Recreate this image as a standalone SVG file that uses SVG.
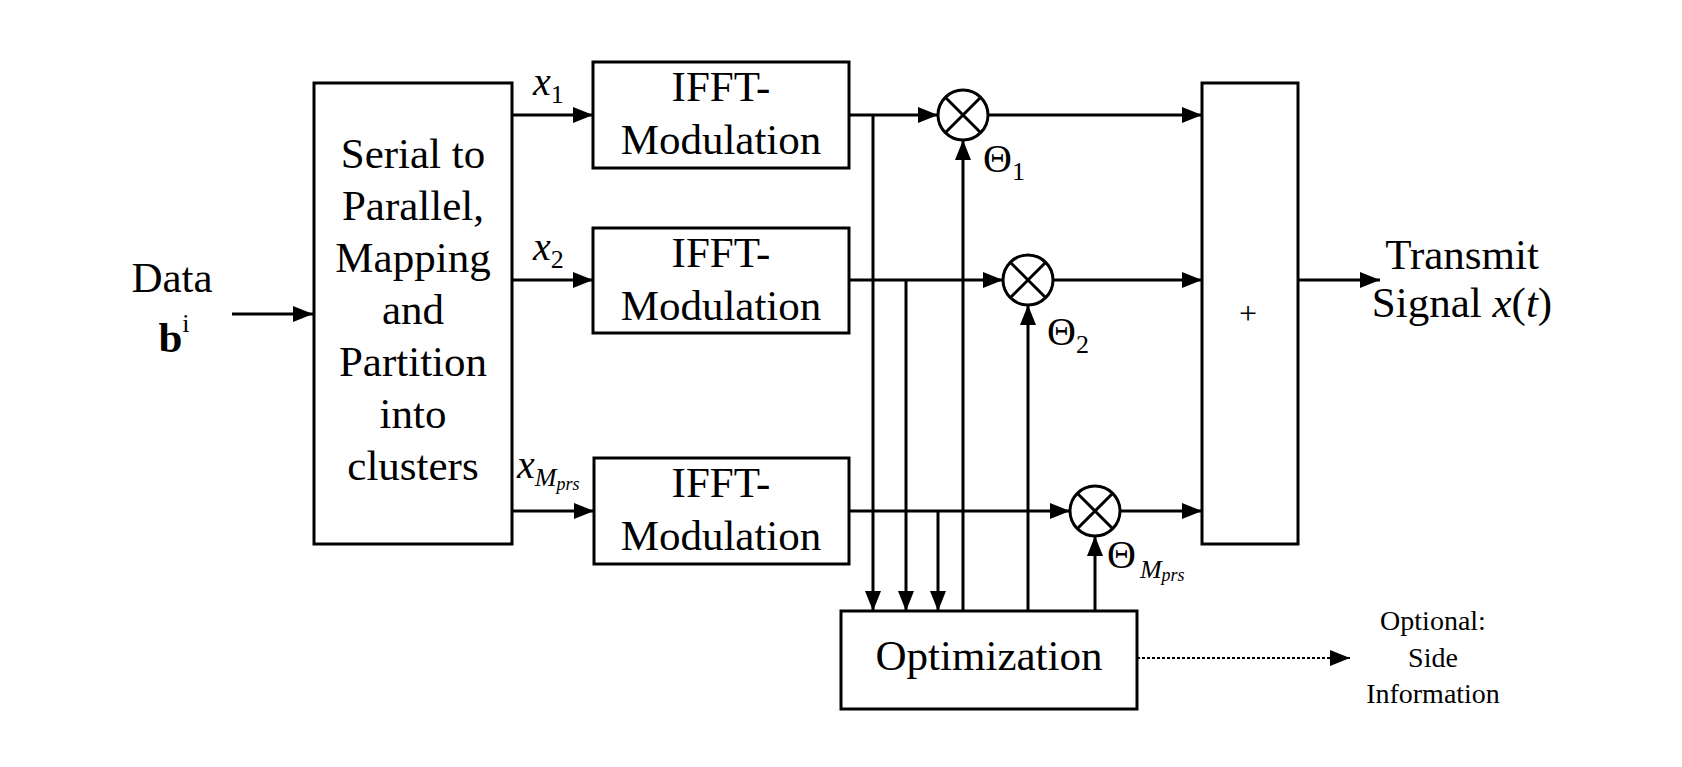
<svg xmlns="http://www.w3.org/2000/svg" width="1682" height="767" viewBox="0 0 1682 767">
<style>
.box{fill:#fff;stroke:#000;stroke-width:3}
.ln{fill:none;stroke:#000;stroke-width:3}
.dot{fill:none;stroke:#000;stroke-width:2;stroke-dasharray:3 2}
text{font-family:"Liberation Serif","Times New Roman",serif;fill:#000}
.t{font-size:43px;text-anchor:middle}
.it{font-style:italic}
.th{font-size:40px}
</style>
<defs>
<marker id="ah" markerUnits="userSpaceOnUse" markerWidth="22" markerHeight="18" refX="20" refY="8" orient="auto">
<path d="M0,0 L20,8 L0,16 z" fill="#000"/>
</marker>
</defs>
<rect width="1682" height="767" fill="#fff"/>

<g id="connectors">
<line class="ln" x1="232" y1="314" x2="313" y2="314" marker-end="url(#ah)"/>
<line class="ln" x1="512" y1="115" x2="593" y2="115" marker-end="url(#ah)"/>
<line class="ln" x1="512" y1="280" x2="593" y2="280" marker-end="url(#ah)"/>
<line class="ln" x1="512" y1="511" x2="594" y2="511" marker-end="url(#ah)"/>
<line class="ln" x1="849" y1="115" x2="938" y2="115" marker-end="url(#ah)"/>
<line class="ln" x1="849" y1="280" x2="1003" y2="280" marker-end="url(#ah)"/>
<line class="ln" x1="849" y1="511" x2="1070" y2="511" marker-end="url(#ah)"/>
<line class="ln" x1="988" y1="115" x2="1202" y2="115" marker-end="url(#ah)"/>
<line class="ln" x1="1053" y1="280" x2="1202" y2="280" marker-end="url(#ah)"/>
<line class="ln" x1="1120" y1="511" x2="1202" y2="511" marker-end="url(#ah)"/>
<line class="ln" x1="1298" y1="280" x2="1380" y2="280" marker-end="url(#ah)"/>
<line class="ln" x1="873" y1="115" x2="873" y2="611" marker-end="url(#ah)"/>
<line class="ln" x1="906" y1="280" x2="906" y2="611" marker-end="url(#ah)"/>
<line class="ln" x1="938" y1="511" x2="938" y2="611" marker-end="url(#ah)"/>
<line class="ln" x1="963" y1="611" x2="963" y2="140" marker-end="url(#ah)"/>
<line class="ln" x1="1028" y1="611" x2="1028" y2="305" marker-end="url(#ah)"/>
<line class="ln" x1="1095" y1="611" x2="1095" y2="536" marker-end="url(#ah)"/>
<line class="dot" x1="1137" y1="658" x2="1350" y2="658" marker-end="url(#ah)"/>
</g>

<g id="data-label">
<text x="172" y="292" class="t">Data</text>
<text x="174" y="352" class="t" font-weight="bold">b<tspan font-size="26" font-weight="normal" dy="-20">i</tspan></text>
</g>

<g id="sp-box">
<rect class="box" x="314" y="83" width="198" height="461"/>
<text class="t" x="413" y="168">Serial to</text>
<text class="t" x="413" y="220">Parallel,</text>
<text class="t" x="413" y="272">Mapping</text>
<text class="t" x="413" y="324">and</text>
<text class="t" x="413" y="376">Partition</text>
<text class="t" x="413" y="428">into</text>
<text class="t" x="413" y="480">clusters</text>
</g>

<g id="labels-x">
<text x="533" y="95" font-size="40" class="it">x<tspan font-size="26" font-style="normal" dy="8">1</tspan></text>
<text x="533" y="260" font-size="40" class="it">x<tspan font-size="26" font-style="normal" dy="8">2</tspan></text>
<text x="517" y="478" font-size="40" class="it">x<tspan font-size="26" dy="8">M</tspan><tspan font-size="18" dy="4">prs</tspan></text>
</g>

<g id="ifft1">
<rect class="box" x="593" y="62" width="256" height="106"/>
<text class="t" x="721" y="101">IFFT-</text>
<text class="t" x="721" y="154">Modulation</text>
</g>
<g id="ifft2">
<rect class="box" x="593" y="228" width="256" height="105"/>
<text class="t" x="721" y="267">IFFT-</text>
<text class="t" x="721" y="320">Modulation</text>
</g>
<g id="ifft3">
<rect class="box" x="594" y="458" width="255" height="106"/>
<text class="t" x="721" y="497">IFFT-</text>
<text class="t" x="721" y="550">Modulation</text>
</g>

<g id="mixer1">
<circle class="box" cx="963" cy="115" r="25" stroke-width="2.5"/>
<path class="ln" stroke-width="2" d="M945,97 L981,133 M981,97 L945,133"/>
<text x="983" y="172" class="th">Θ<tspan font-size="26" dy="8">1</tspan></text>
</g>
<g id="mixer2">
<circle class="box" cx="1028" cy="280" r="25" stroke-width="2.5"/>
<path class="ln" stroke-width="2" d="M1010,262 L1046,298 M1046,262 L1010,298"/>
<text x="1047" y="345" class="th">Θ<tspan font-size="26" dy="8">2</tspan></text>
</g>
<g id="mixer3">
<circle class="box" cx="1095" cy="511" r="25" stroke-width="2.5"/>
<path class="ln" stroke-width="2" d="M1077,493 L1113,529 M1113,493 L1077,529"/>
<text x="1107" y="568" class="th">Θ<tspan font-size="26" font-style="italic" dx="4" dy="10">M</tspan><tspan font-size="18" font-style="italic" dy="3">prs</tspan></text>
</g>

<g id="sum-box">
<rect class="box" x="1202" y="83" width="96" height="461"/>
<text x="1248" y="324" font-size="32" text-anchor="middle">+</text>
</g>

<g id="output-label">
<text class="t" x="1462" y="269" font-size="42">Transmit</text>
<text class="t" x="1462" y="317" font-size="42">Signal <tspan class="it">x</tspan>(<tspan class="it">t</tspan>)</text>
</g>

<g id="optimization">
<rect class="box" x="841" y="611" width="296" height="98"/>
<text class="t" x="989" y="670">Optimization</text>
</g>

<g id="side-info">
<text x="1433" y="630" font-size="28" text-anchor="middle">Optional:</text>
<text x="1433" y="667" font-size="28" text-anchor="middle">Side</text>
<text x="1433" y="703" font-size="28" text-anchor="middle">Information</text>
</g>
</svg>
